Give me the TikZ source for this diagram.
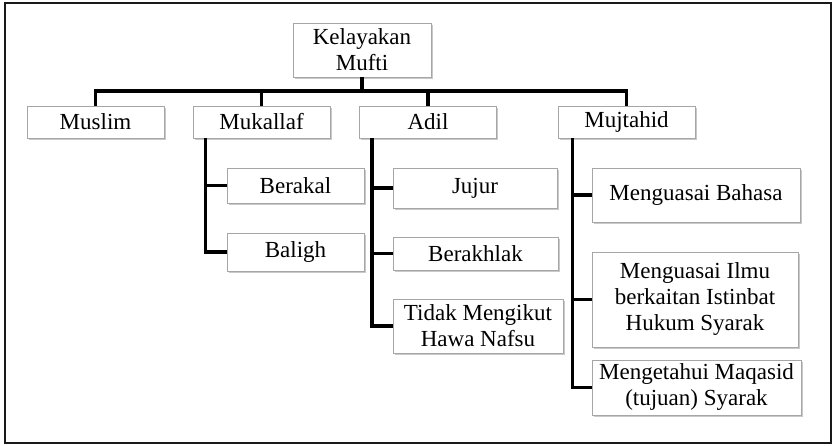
\documentclass[tikz,border=0pt]{standalone}
\usepackage{fontspec}
\setmainfont{Liberation Serif}
\usetikzlibrary{shadows}
\begin{document}
\begin{tikzpicture}[x=1pt,y=-1pt,
    kotak/.style={draw=gray!70,fill=white,line width=0.8pt,align=center,inner sep=2pt,
      font=\fontsize{23}{26}\selectfont,
      drop shadow={shadow xshift=1.5pt,shadow yshift=-2pt,fill=gray!60,opacity=0.7}},
    garis/.style={line width=3.5pt}]
                  \useasboundingbox (0,0) rectangle (835,446);
                  \draw[line width=2pt,gray!20!black] (5,3) rectangle (831,443);

                  % tahap atas
                  \node[kotak,minimum width=138,minimum height=54] (kelayakan) at (362,50) {Kelayakan\\Mufti};
                  \begin{scope}[minimum width=137,minimum height=32]
                      \node[kotak] (muslim) at (95.5,122) {Muslim};
                      \node[kotak] (mukallaf) at (261.5,122) {Mukallaf};
                      \node[kotak] (adil) at (428,122) {Adil};
                      \node[kotak] (mujtahid) at (626.5,122) {Mujtahid};
                  \end{scope}

                  % anak Mukallaf
                  \node[kotak,minimum width=137,minimum height=35] (berakal) at (295.5,185.5) {Berakal};
                  \node[kotak,minimum width=137,minimum height=38] (baligh) at (295.5,252) {Baligh};

                  % anak Adil
                  \node[kotak,minimum width=164,minimum height=40] (jujur) at (475,188) {Jujur};
                  \node[kotak,minimum width=165,minimum height=33] (berakhlak) at (475.5,253.5) {Berakhlak};
                  \node[kotak,minimum width=170,minimum height=54] (tidak) at (478,326) {Tidak Mengikut\\Hawa Nafsu};

                  % anak Mujtahid
                  \node[kotak,minimum width=208,minimum height=54] (bahasa) at (696,195) {Menguasai Bahasa};
                  \node[kotak,minimum width=206,minimum height=95] (ilmu) at (695,299.5) {Menguasai Ilmu\\berkaitan Istinbat\\Hukum Syarak};
                  \node[kotak,minimum width=209,minimum height=55] (maqasid) at (696.5,387.5) {Mengetahui Maqasid\\(tujuan) Syarak};

                  \coordinate (bus) at (362,91);
                  \coordinate (Mk) at ([xshift=13pt]mukallaf.south west);
                  \coordinate (Ad) at ([xshift=13pt]adil.south west);
                  \coordinate (Mj) at ([xshift=15pt]mujtahid.south west);

                  \begin{scope}[garis]
                      \draw (kelayakan) -- (bus);
                      \draw (bus) -| (muslim);
                      \draw (bus) -| (mukallaf);
                      \draw (bus) -| (adil);
                      \draw (bus) -| (mujtahid);

                      \draw (Mk) |- (berakal);
                      \draw (Mk) |- (baligh);

                      \draw (Ad) |- (jujur);
                      \draw (Ad) |- (berakhlak);
                      \draw (Ad) |- (tidak);

                      \draw (Mj) |- (bahasa);
                      \draw (Mj) |- (ilmu);
                      \draw (Mj) |- (maqasid);
                  \end{scope}
              \end{tikzpicture}
\end{document}
